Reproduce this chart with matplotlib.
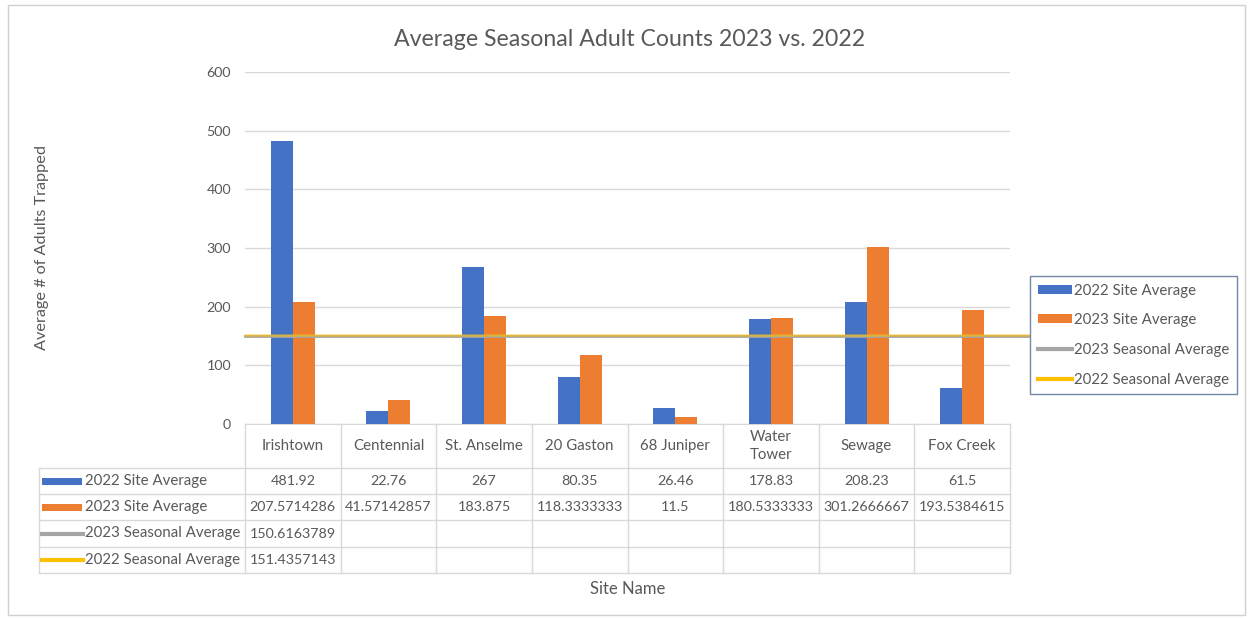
import matplotlib
matplotlib.use("Agg")
import matplotlib.pyplot as plt
from matplotlib.patches import Rectangle, Patch
from matplotlib.lines import Line2D

# ---------------- data ----------------
sites = ["Irishtown", "Centennial", "St. Anselme", "20 Gaston", "68 Juniper",
         "Water\nTower", "Sewage", "Fox Creek"]
avg_2022 = [481.92, 22.76, 267, 80.35, 26.46, 178.83, 208.23, 61.5]
avg_2023 = [207.5714286, 41.57142857, 183.875, 118.3333333, 11.5,
            180.5333333, 301.2666667, 193.5384615]
seasonal_2023 = 150.6163789
seasonal_2022 = 151.4357143
series_names = ["2022 Site Average", "2023 Site Average",
                "2023 Seasonal Average", "2022 Seasonal Average"]
yticks = [0, 100, 200, 300, 400, 500, 600]
title = "Average Seasonal Adult Counts 2023 vs. 2022"
ylabel = "Average # of Adults Trapped"
xlabel = "Site Name"

# ---------------- style ----------------
C_BLUE = "#4472C4"
C_ORANGE = "#ED7D31"
C_GRAY = "#A5A5A5"
C_YELLOW = "#FFC000"
TXT = "#595959"
GRID = "#D9D9D9"
FONT = ["Lato", "DejaVu Sans"]
plt.rcParams["font.family"] = FONT
FS_TXT = 10.8
FS_NUM = 10.3

W, H = 1250, 619
fig = plt.figure(figsize=(W / 100, H / 100), dpi=100)


def fx(px):
    return px / W


def fy(py):
    return 1 - py / H


# outer chart border
fig.add_artist(Rectangle((fx(8), fy(615)), fx(1245) - fx(8), fy(5) - fy(615),
                         transform=fig.transFigure, fill=False,
                         edgecolor="#D0D0D0", lw=1))

L, R, T, B = 245, 1010, 72, 424
ax = fig.add_axes([fx(L), fy(B), fx(R) - fx(L), fy(T) - fy(B)])
n = len(sites)
x = list(range(n))
bw = 0.23
ax.bar([i - bw / 2 for i in x], avg_2022, width=bw, color=C_BLUE, zorder=3)
ax.bar([i + bw / 2 for i in x], avg_2023, width=bw, color=C_ORANGE, zorder=3)
ext = (1028 - L) / (R - L)
ax.axhline(seasonal_2023, xmin=0, xmax=ext, color=C_GRAY, lw=2.0,
           clip_on=False, zorder=4)
ax.axhline(seasonal_2022, xmin=0, xmax=ext, color=C_YELLOW, lw=1.8, alpha=0.55,
           clip_on=False, zorder=5)

ax.set_xlim(-0.5, n - 0.5)
ax.set_ylim(0, 600)
ax.set_yticks(yticks)
ax.set_xticks([])
ax.grid(axis="y", color=GRID, lw=1, zorder=0)
for s in ["top", "right", "left"]:
    ax.spines[s].set_visible(False)
ax.spines["bottom"].set_color(GRID)
ax.tick_params(axis="y", length=0, labelsize=FS_NUM, labelcolor=TXT, pad=10)

fig.text(fx(630), fy(40), title, ha="center", va="center", fontsize=16.7,
         color=TXT)
fig.text(fx(42), fy(247), ylabel, ha="center", va="center", rotation=90,
         fontsize=11.7, color=TXT)
fig.text(fx(628), fy(589), xlabel, ha="center", va="center", fontsize=12,
         color=TXT)

# ---------------- data table ----------------
cw = (R - L) / n
row_edges = [468, 494, 520, 547, 573]
TL = 39


def hline(y, x0, x1):
    fig.add_artist(Line2D([fx(x0), fx(x1)], [fy(y), fy(y)],
                          transform=fig.transFigure, color=GRID, lw=1))


def vline(xp, y0, y1):
    fig.add_artist(Line2D([fx(xp), fx(xp)], [fy(y0), fy(y1)],
                          transform=fig.transFigure, color=GRID, lw=1))


for y in row_edges:
    hline(y, TL, R)
vline(TL, row_edges[0], row_edges[-1])
for i in range(n + 1):
    vline(L + i * cw, B, row_edges[-1])

for i, s in enumerate(sites):
    fig.text(fx(L + (i + 0.5) * cw), fy((B + row_edges[0]) / 2), s,
             ha="center", va="center", fontsize=FS_TXT, color=TXT,
             linespacing=1.3)

rows = [
    [str(v) for v in avg_2022],
    [str(v) for v in avg_2023],
    [str(seasonal_2023)] + [""] * (n - 1),
    [str(seasonal_2022)] + [""] * (n - 1),
]
key_colors = [C_BLUE, C_ORANGE, C_GRAY, C_YELLOW]
for r in range(4):
    yc = (row_edges[r] + row_edges[r + 1]) / 2
    if r < 2:
        fig.add_artist(Rectangle((fx(42), fy(yc + 3.5)), fx(82) - fx(42),
                                 fy(yc - 3.5) - fy(yc + 3.5),
                                 transform=fig.transFigure,
                                 color=key_colors[r], lw=0))
    else:
        fig.add_artist(Line2D([fx(42), fx(83)], [fy(yc), fy(yc)],
                              transform=fig.transFigure,
                              color=key_colors[r], lw=3))
    fig.text(fx(85), fy(yc), series_names[r], ha="left", va="center",
             fontsize=FS_TXT, color=TXT)
    for i in range(n):
        if rows[r][i]:
            fig.text(fx(L + (i + 0.5) * cw), fy(yc), rows[r][i],
                     ha="center", va="center", fontsize=FS_NUM, color=TXT)

# ---------------- legend ----------------
handles = [Patch(facecolor=C_BLUE, edgecolor="none"),
           Patch(facecolor=C_ORANGE, edgecolor="none"),
           Line2D([], [], color=C_GRAY, lw=3),
           Line2D([], [], color=C_YELLOW, lw=3)]
leg = fig.legend(handles, series_names, loc="upper left",
                 bbox_to_anchor=(fx(1030), fy(276)),
                 bbox_transform=fig.transFigure, frameon=True,
                 fancybox=False, fontsize=FS_TXT, labelcolor=TXT,
                 handlelength=2.3, handleheight=0.55, handletextpad=0.15,
                 labelspacing=1.05, borderpad=0.5, borderaxespad=0)
leg.get_frame().set_edgecolor("#4F6A8F")
leg.get_frame().set_linewidth(1)

fig.savefig("out.png", dpi=100, facecolor="white")
